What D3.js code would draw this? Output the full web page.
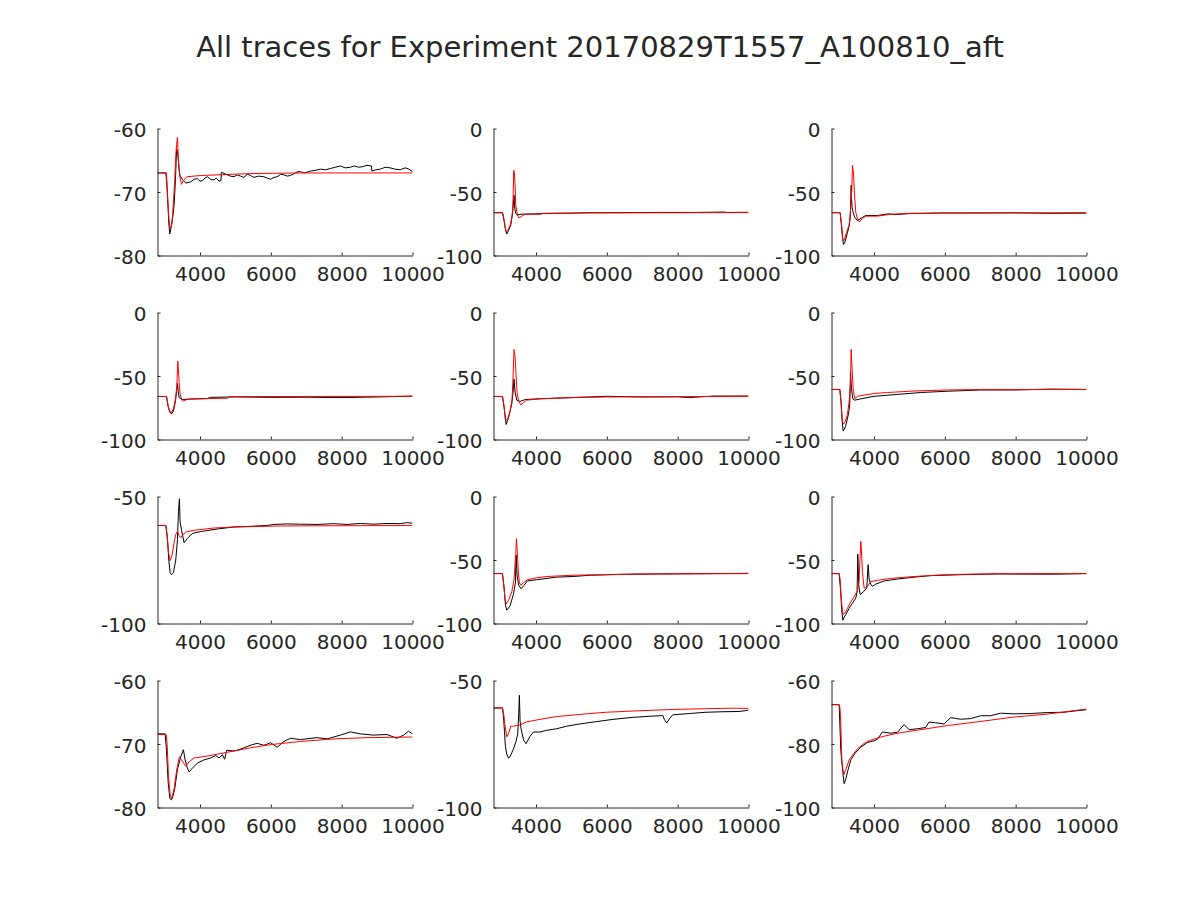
<!DOCTYPE html>
<html>
<head>
<meta charset="utf-8">
<script src="https://cdn.jsdelivr.net/npm/d3@7"></script>
<style>
  body { margin: 0; background: #fff; }
  text { font-family: "DejaVu Sans", sans-serif; fill: #262626; }
</style>
</head>
<body>
<div class="traces"></div>
<script>
// figure size
const w = 1200
const h = 900

const titleText = "All traces for Experiment 20170829T1557_A100810_aft"

// x range is the same in every panel
const xDomain = [2800, 10000]
const xTicks = [4000, 6000, 8000, 10000]

// y range and ticks, one per panel (row by row)
const yDomains = [[-80, -60], [-100, 0], [-100, 0],
                  [-100, 0], [-100, 0], [-100, 0],
                  [-100, -50], [-100, 0], [-100, 0],
                  [-80, -60], [-100, -50], [-100, -60]]
const yTicks = [[-80, -70, -60], [-100, -50, 0], [-100, -50, 0],
                [-100, -50, 0], [-100, -50, 0], [-100, -50, 0],
                [-100, -50], [-100, -50, 0], [-100, -50, 0],
                [-80, -70, -60], [-100, -50], [-100, -80, -60]]

// recorded trace (black) and model trace (red), [time, mV]
const rec1 = [[2800,-67],[3035,-67],[3060,-68.5],[3085,-71],[3120,-75],[3147,-76.6],[3175,-75.8],[3204,-75],[3240,-73.5],[3270,-72],[3307,-68],[3330,-64.5],[3344,-63.3],[3365,-63.6],[3380,-64.5],[3410,-66.5],[3440,-67.5],[3500,-68],[3600,-68.6],[3740,-68.4],[3830,-68.0],[3927,-67.9],[4000,-68.3],[4067,-68.2],[4140,-67.8],[4208,-67.6],[4300,-68.0],[4396,-68.1],[4460,-67.8],[4537,-68.3],[4590,-68.2],[4603,-66.9],[4700,-67.1],[4771,-67.3],[4860,-67.5],[4959,-67.6],[5050,-67.3],[5147,-67.5],[5240,-67.7],[5334,-67.2],[5430,-67.4],[5522,-67.7],[5650,-67.5],[5804,-67.6],[5900,-67.8],[5992,-68.0],[6090,-67.7],[6179,-67.6],[6280,-67.2],[6367,-67.3],[6460,-67.5],[6555,-67.4],[6696,-67.0],[6760,-66.8],[6836,-66.8],[6950,-67.0],[7118,-66.7],[7250,-66.6],[7400,-66.4],[7550,-66.5],[7681,-66.3],[7820,-66.1],[7963,-65.9],[8100,-66.2],[8245,-66.1],[8350,-65.9],[8480,-66.1],[8600,-66.0],[8714,-65.8],[8840,-65.9],[8855,-66.7],[8960,-66.5],[9090,-66.4],[9230,-66.1],[9372,-66.2],[9500,-66.4],[9653,-66.5],[9794,-66.2],[9900,-66.4],[10000,-66.8]]
const fit1 = [[2800,-67],[3053,-67],[3070,-69],[3090,-71],[3120,-74],[3157,-75.8],[3190,-75.5],[3222,-74],[3255,-71],[3288,-68],[3320,-64],[3340,-62.5],[3363,-61.4],[3391,-65],[3429,-67.5],[3476,-68.8],[3532,-68.2],[3626,-67.6],[4020,-67.4],[5428,-67.1],[6836,-67.0],[10000,-67.0]]

const rec2 = [[2800,-66.3],[3053,-66.3],[3100,-73],[3140,-80],[3175,-83],[3222,-80.5],[3287,-76],[3334,-68],[3360,-60],[3380,-52.6],[3400,-63],[3430,-67],[3475,-68],[3600,-67.5],[4000,-67.2],[4500,-66.8],[5000,-66.7],[5500,-66.3],[6500,-66.2],[7500,-66.1],[8500,-66.1],[9300,-65.8],[9400,-66.1],[10000,-66.0]]
const fit2 = [[2800,-66.3],[3053,-66.3],[3075,-68],[3100,-72],[3130,-78],[3156,-81],[3190,-80.5],[3222,-79],[3287,-75],[3334,-66],[3353,-55],[3372,-33],[3391,-35],[3410,-45],[3428,-60],[3475,-68],[3522,-70.5],[3597,-69],[3690,-67.5],[4112,-67.5],[4200,-66.8],[5300,-66.5],[10000,-66.2]]

const rec3 = [[2800,-66.3],[3044,-66.3],[3080,-76],[3110,-86],[3139,-91.3],[3170,-90],[3204,-87],[3250,-82],[3298,-77],[3330,-70],[3345,-55],[3355,-44.7],[3364,-55],[3383,-62],[3411,-66],[3458,-70],[3533,-72.5],[3674,-70],[3768,-68.5],[4100,-68.5],[4400,-67.2],[4600,-67.8],[5000,-67.0],[6000,-66.5],[7000,-66.5],[8000,-66.4],[9000,-66.8],[10000,-66.6]]
const fit3 = [[2800,-66.3],[3044,-66.3],[3082,-75],[3120,-88],[3157,-88],[3223,-82],[3298,-76],[3336,-65],[3374,-48],[3392,-29],[3420,-35],[3449,-52],[3486,-66],[3533,-71.5],[3580,-73.5],[3674,-71],[3768,-69],[4097,-69],[4473,-67.5],[5000,-66.8],[6000,-66.6],[10000,-66.3]]

const rec4 = [[2800,-66.1],[3053,-66.1],[3100,-74],[3150,-78.5],[3194,-79.8],[3250,-77.5],[3307,-70],[3340,-62],[3363,-55.9],[3385,-62],[3410,-67],[3500,-68.5],[3700,-68.2],[4200,-67.8],[4300,-66.8],[5000,-66.5],[6000,-66.8],[7000,-66.7],[8000,-67.0],[9000,-66.5],[10000,-65.8]]
const fit4 = [[2800,-66.1],[3053,-66.1],[3080,-70],[3110,-75],[3175,-79.3],[3250,-76],[3307,-68],[3345,-58],[3373,-38.3],[3391,-45],[3410,-55],[3438,-64],[3485,-69],[3532,-69.8],[3626,-68.5],[3739,-68],[4771,-67.5],[4818,-66.2],[10000,-66]]

const rec5 = [[2800,-66.1],[3053,-66.1],[3100,-75],[3156,-88.2],[3222,-83],[3316,-72],[3362,-60],[3381,-52.5],[3410,-63],[3457,-69],[3550,-70],[3700,-68.5],[4200,-67.8],[5000,-67],[6000,-66],[7000,-66.5],[8000,-66.4],[8300,-67],[9000,-65.8],[10000,-65.8]]
const fit5 = [[2800,-66.1],[3053,-66.1],[3100,-74],[3137,-84.8],[3194,-84],[3269,-78],[3325,-68],[3353,-50],[3381,-29],[3410,-35],[3438,-50],[3466,-63],[3512,-70],[3569,-72.7],[3644,-71],[3737,-69],[4112,-68],[5050,-67],[5987,-66.5],[10000,-66]]

const rec6 = [[2800,-60.6],[3035,-60.6],[3070,-70],[3100,-85],[3129,-93.4],[3160,-92],[3204,-89],[3279,-80],[3317,-72],[3336,-46.7],[3364,-60],[3402,-68],[3458,-69],[3627,-68],[4003,-66],[4661,-64.5],[5318,-63],[6069,-62],[7009,-61],[8000,-61],[9000,-60.3],[10000,-60.6]]
const fit6 = [[2800,-60.6],[3035,-60.6],[3073,-72],[3101,-85],[3139,-87.9],[3186,-86],[3251,-80],[3298,-70],[3336,-57],[3355,-29.1],[3383,-45],[3411,-60],[3458,-67.7],[3533,-66],[3721,-65],[4003,-63.8],[4379,-63],[5130,-61.8],[6069,-61],[7009,-60.7],[10000,-60.6]]

const rec7 = [[2800,-61.4],[3035,-61.4],[3082,-67],[3119,-75],[3157,-80],[3194,-80.8],[3250,-80],[3316,-75],[3363,-67],[3391,-56],[3419,-50.9],[3438,-60],[3476,-63],[3551,-68.2],[3645,-66.5],[3786,-64.5],[4020,-63.8],[4490,-62.8],[4959,-62],[5334,-61.8],[5898,-61.4],[6086,-61],[6461,-60.8],[6836,-60.9],[7306,-61],[7775,-60.7],[8151,-61],[8527,-60.6],[8902,-60.9],[9278,-60.6],[9652,-60.7],[9840,-60.3],[10000,-60.5]]
const fit7 = [[2800,-61.4],[3035,-61.4],[3072,-65],[3110,-72],[3157,-75.3],[3213,-73],[3270,-68],[3316,-65],[3363,-63.7],[3410,-65.5],[3457,-66.2],[3520,-65],[3598,-64],[3833,-63.3],[4396,-62.4],[4959,-62],[6273,-61.6],[10000,-61.4]]

const rec8 = [[2800,-60.7],[3053,-60.7],[3100,-72],[3140,-86],[3175,-89.5],[3269,-86],[3362,-77],[3419,-68],[3438,-46.3],[3466,-62],[3512,-70],[3578,-72.5],[3662,-70],[3756,-66.5],[4019,-65.5],[4581,-63.5],[5050,-63],[5519,-62],[6456,-61.3],[7500,-61],[8500,-60.8],[10000,-60.5]]
const fit8 = [[2800,-60.7],[3053,-60.7],[3091,-70],[3128,-82],[3166,-84.3],[3222,-82],[3316,-75],[3381,-65],[3428,-45],[3447,-33.2],[3475,-45],[3503,-60],[3531,-68],[3569,-69.9],[3644,-68],[3756,-65.5],[4019,-64],[4300,-63],[5050,-62],[5987,-61.5],[6925,-61],[10000,-60.7]]

const rec9 = [[2800,-60.7],[3016,-60.7],[3060,-75],[3090,-90],[3120,-97.4],[3157,-95],[3204,-93],[3298,-88],[3392,-84],[3486,-80],[3523,-75],[3542,-45.5],[3570,-70],[3608,-77.2],[3702,-75],[3796,-72],[3834,-53.7],[3862,-65],[3909,-69],[3956,-70.7],[4050,-69],[4285,-66.5],[4661,-65],[5130,-63.5],[5600,-62.3],[6540,-61.5],[7500,-61],[9000,-61.2],[10000,-60.7]]
const fit9 = [[2800,-60.7],[3016,-60.7],[3044,-65],[3063,-75],[3091,-85],[3120,-92.7],[3176,-92],[3251,-88],[3345,-83],[3458,-78],[3533,-74],[3580,-66],[3608,-47],[3627,-35.3],[3646,-42],[3674,-60],[3721,-72],[3777,-72],[3834,-70],[3909,-67],[4097,-66],[4473,-64.5],[5130,-63],[6069,-61.5],[7500,-60.8],[10000,-60.7]]

const rec10 = [[2800,-68.4],[3016,-68.4],[3053,-71],[3100,-76],[3150,-78.6],[3190,-78.8],[3232,-78.3],[3288,-77],[3363,-74],[3457,-72],[3532,-70.9],[3579,-72.5],[3645,-73.8],[3692,-74.4],[3786,-73.8],[3927,-73],[4114,-72.5],[4302,-72.2],[4443,-71.8],[4537,-72.2],[4631,-71.7],[4697,-72.4],[4752,-71],[4959,-71.1],[5100,-70.9],[5241,-70.6],[5475,-70.1],[5616,-69.9],[5804,-70.2],[5992,-69.8],[6180,-70.5],[6367,-69.6],[6555,-69.1],[6836,-69.3],[7306,-69.0],[7587,-69.2],[7963,-68.6],[8245,-68.1],[8527,-68.4],[8902,-68.6],[9278,-68.5],[9560,-69.1],[9747,-68.6],[9887,-68.0],[10000,-68.4]]
const fit10 = [[2800,-68.5],[3044,-68.5],[3072,-70],[3110,-75],[3157,-78],[3204,-78.6],[3270,-77],[3344,-74],[3419,-72],[3476,-72.5],[3598,-73.5],[3692,-72.8],[3833,-72.2],[4208,-71.9],[4771,-71.3],[5428,-70.6],[5992,-70.1],[6836,-69.6],[7775,-69.2],[8714,-69.0],[10000,-68.9]]

const rec11 = [[2800,-60.8],[3053,-60.8],[3081,-64],[3109,-70],[3137,-76],[3175,-79],[3222,-80.5],[3269,-80],[3362,-77],[3437,-74],[3484,-71],[3512,-63],[3531,-55.8],[3550,-66],[3578,-69],[3650,-73.5],[3719,-74.9],[3831,-72],[3925,-70.3],[4112,-70.3],[4300,-69.6],[4581,-69],[4862,-68],[5237,-67.1],[5706,-66.2],[6175,-65.3],[6737,-64.5],[7300,-64.0],[7581,-63.8],[7628,-65.5],[7694,-66.7],[7769,-65],[7862,-63.5],[8331,-63],[8800,-62.5],[9269,-62.3],[9737,-62.2],[10000,-61.7]]
const fit11 = [[2800,-60.8],[3053,-60.8],[3091,-63.5],[3128,-68],[3175,-72.2],[3222,-71],[3288,-68],[3362,-68],[3550,-67.5],[3737,-66.3],[4112,-65.3],[4581,-64.2],[5050,-63.6],[5519,-63],[5987,-62.5],[6925,-61.9],[7862,-61.4],[8800,-61.1],[9550,-60.9],[10000,-61.0]]

const rec12 = [[2800,-67.6],[3016,-67.6],[3063,-82],[3120,-89],[3157,-92.5],[3204,-91],[3270,-88],[3345,-85],[3458,-83],[3627,-81],[3815,-79.5],[4003,-79],[4097,-78.5],[4238,-76.2],[4473,-76.6],[4661,-76.3],[4849,-73.9],[4990,-75.5],[5224,-75.2],[5459,-74.8],[5553,-73.1],[5741,-73.3],[5976,-73.7],[6164,-71.7],[6446,-72.2],[6728,-72.0],[7009,-71.1],[7291,-71.1],[7573,-70.3],[7949,-70.5],[8419,-70.4],[8888,-70.1],[9358,-70.0],[9734,-69.5],[10000,-69.2]]
const fit12 = [[2800,-67.6],[3016,-67.6],[3044,-69],[3063,-74],[3091,-85],[3120,-88],[3148,-89.7],[3204,-88],[3298,-85],[3392,-83.5],[3533,-81.5],[3721,-79.8],[3909,-78.8],[4191,-77.8],[4661,-76.6],[5130,-75.8],[5600,-75.0],[6069,-74.2],[7009,-72.9],[7949,-71.5],[8888,-70.6],[10000,-69.0]]

const recorded = [rec1, rec2, rec3, rec4, rec5, rec6, rec7, rec8, rec9, rec10, rec11, rec12]
const fitted = [fit1, fit2, fit3, fit4, fit5, fit6, fit7, fit8, fit9, fit10, fit11, fit12]

// panel grid
const colLeft = [157, 493, 831]
const rowTop = [128, 312, 496, 680]
const pw = 255
const ph = 127

const svg = d3.select(".traces")
  .append("svg")
    .attr("width", w)
    .attr("height", h)

svg.append("rect")
  .attr("width", w)
  .attr("height", h)
  .attr("fill", "#fff")

svg.append("text")
  .attr("x", w / 2)
  .attr("y", 57)
  .attr("text-anchor", "middle")
  .style("font-size", "29px")
  .text(titleText)

recorded.forEach((rec, i) => {
  const row = Math.floor(i / 3)
  const col = i % 3

  const x = d3.scaleLinear().domain(xDomain).range([0, pw])
  const y = d3.scaleLinear().domain(yDomains[i]).range([ph, 0])

  const g = svg.append("g")
    .attr("transform", `translate(${colLeft[col] + 0.5},${rowTop[row] + 0.5})`)

  g.append("clipPath")
    .attr("id", "clip" + i)
    .append("rect")
      .attr("width", pw)
      .attr("height", ph)

  const line = d3.line()
    .x(d => x(d[0]))
    .y(d => y(d[1]))

  // black trace first, model drawn on top
  g.append("path")
    .datum(rec)
    .attr("clip-path", `url(#clip${i})`)
    .attr("fill", "none")
    .attr("stroke", "#000")
    .attr("stroke-width", 1)
    .attr("d", line)

  g.append("path")
    .datum(fitted[i])
    .attr("clip-path", `url(#clip${i})`)
    .attr("fill", "none")
    .attr("stroke", "#ff0000")
    .attr("stroke-width", 1)
    .attr("d", line)

  // axes, ticks pointing inward like matlab, plain hyphen for minus
  const xAxis = g.append("g")
    .attr("transform", `translate(0,${ph})`)
    .call(d3.axisBottom(x).tickValues(xTicks).tickFormat(d => String(d))
      .tickSizeInner(-3).tickSizeOuter(0).tickPadding(11))

  const yAxis = g.append("g")
    .call(d3.axisLeft(y).tickValues(yTicks[i]).tickFormat(d => String(d))
      .tickSizeInner(-3).tickSizeOuter(0).tickPadding(11))

  ;[xAxis, yAxis].forEach(a => {
    a.select(".domain").attr("stroke", "#262626")
    a.selectAll(".tick line").attr("stroke", "#262626")
    a.selectAll(".tick text")
      .attr("fill", "#262626")
      .style("font-size", "20px")
      .style("font-family", "DejaVu Sans, sans-serif")
  })
  yAxis.selectAll(".tick text").attr("dy", "0.4em")
})
</script>
</body>
</html>
